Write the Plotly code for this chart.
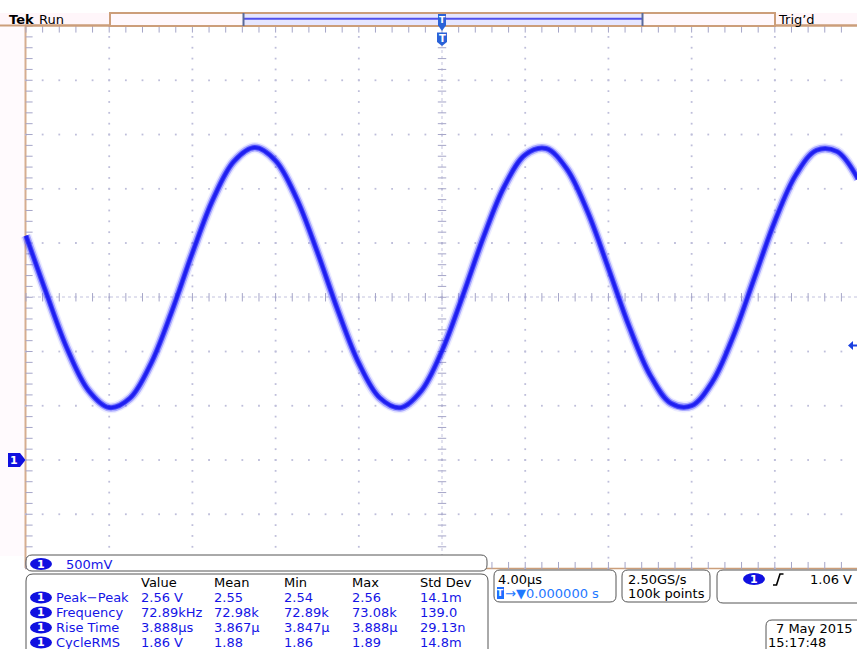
import plotly.graph_objects as go
import numpy as np

time_us = list(range(-20, 21))  # µs, 4 µs/div, trigger at 0
volts = [2.068, 1.526, 1.016, 0.642, 0.483, 0.570, 0.886, 1.365, 1.910, 2.407,
         2.754, 2.880, 2.759, 2.415, 1.920, 1.375, 0.893, 0.574, 0.482, 0.637,
         1.007, 1.516, 2.058, 2.523, 2.814, 2.871, 2.683, 2.288, 1.767, 1.229,
         0.784, 0.523, 0.501, 0.722, 1.140, 1.669, 2.201, 2.625, 2.855, 2.842,
         2.590]

meas_headers = ["Value", "Mean", "Min", "Max", "Std Dev"]
meas_names = ["Peak\u2212Peak", "Frequency", "Rise Time", "CycleRMS"]
meas_value = ["2.56 V", "72.89kHz", "3.888\u00b5s", "1.86 V"]
meas_mean = ["2.55", "72.98k", "3.867\u00b5", "1.88"]
meas_min = ["2.54", "72.89k", "3.847\u00b5", "1.86"]
meas_max = ["2.56", "73.08k", "3.888\u00b5", "1.89"]
meas_std = ["14.1m", "139.0", "29.13n", "14.8m"]

scale_text = "500mV"
timebase_text = "4.00\u00b5s"
position_text = "\u2192\u25bc0.000000 s"
sample_rate_text = "2.50GS/s"
record_text = "100k points"
trigger_level_text = "1.06 V"
date_text = "7 May 2015"
time_text = "15:17:48"

# ---------------- geometry helpers ----------------
W, H = 857, 649
def X(px):
    return px / W
def Y(py):
    return 1 - py / H

BLUE = "#1414e6"
TAN = "#cc9e7a"
FONT = "DejaVu Sans"
GRID = "rgb(190,190,218)"
TICK = "rgb(165,165,200)"

fig = go.Figure()

# graticule dots
gx, gy = [], []
for t in np.arange(-16, 20.1, 4):
    if abs(t) < 1e-6:
        continue
    for v in np.arange(-1.0, 4.001, 0.1):
        gx.append(t); gy.append(v)
for v in np.arange(-0.5, 3.6, 0.5):
    if abs(v - 1.5) < 1e-6:
        continue
    for t in np.arange(-20, 20.01, 0.8):
        gx.append(t); gy.append(v)
fig.add_trace(go.Scatter(x=gx, y=gy, mode="markers", hoverinfo="skip",
                         marker=dict(symbol="square", size=1.8, color=GRID, line_width=0)))

# center crosshair ticks
tx = list(np.arange(-20, 20.01, 0.8))
fig.add_trace(go.Scatter(x=tx, y=[1.5] * len(tx), mode="markers", hoverinfo="skip",
                         marker=dict(symbol="line-ns", size=6, line=dict(width=1, color=TICK))))
vy = list(np.arange(-1.0, 4.001, 0.1))
fig.add_trace(go.Scatter(x=[0] * len(vy), y=vy, mode="markers", hoverinfo="skip",
                         marker=dict(symbol="line-ew", size=6, line=dict(width=1, color=TICK))))
# border ticks
fig.add_trace(go.Scatter(x=tx, y=[4.0 - 0.028] * len(tx), mode="markers", hoverinfo="skip",
                         marker=dict(symbol="line-ns", size=5, line=dict(width=1, color=TICK))))
fig.add_trace(go.Scatter(x=tx, y=[-1.0 + 0.028] * len(tx), mode="markers", hoverinfo="skip",
                         marker=dict(symbol="line-ns", size=5, line=dict(width=1, color=TICK))))
fig.add_trace(go.Scatter(x=[-20 + 0.15] * len(vy), y=vy, mode="markers", hoverinfo="skip",
                         marker=dict(symbol="line-ew", size=5, line=dict(width=1, color=TICK))))

# waveform (glow + core)
fig.add_trace(go.Scatter(x=time_us, y=volts, mode="lines", hoverinfo="skip",
                         line=dict(shape="spline", width=11, color="rgba(90,90,255,0.12)")))
fig.add_trace(go.Scatter(x=time_us, y=volts, mode="lines", hoverinfo="skip",
                         line=dict(shape="spline", width=8, color="rgba(50,50,255,0.35)")))
fig.add_trace(go.Scatter(x=time_us, y=volts, mode="lines", hoverinfo="skip",
                         line=dict(shape="spline", width=5, color="rgba(35,35,250,0.75)")))
fig.add_trace(go.Scatter(x=time_us, y=volts, mode="lines", hoverinfo="skip",
                         line=dict(shape="spline", width=3, color="rgb(30,30,240)")))

shapes = []
def rect(x0, y0, x1, y1, fill=None, line=None, lw=1, layer="above"):
    shapes.append(dict(type="rect", xref="paper", yref="paper", x0=X(x0), x1=X(x1), y0=Y(y1), y1=Y(y0),
                       fillcolor=fill or "rgba(0,0,0,0)", line=dict(color=line or "rgba(0,0,0,0)", width=lw if line else 0),
                       layer=layer))
def pline(x0, y0, x1, y1, color, w=1, dash="solid", layer="above"):
    shapes.append(dict(type="line", xref="paper", yref="paper", x0=X(x0), x1=X(x1), y0=Y(y0), y1=Y(y1),
                       line=dict(color=color, width=w, dash=dash), layer=layer))
def path(pts, fill, color=None, w=0, closed=True, layer="above"):
    s = "M " + " L ".join(f"{X(a):.5f},{Y(b):.5f}" for a, b in pts)
    if closed:
        s += " Z"
    shapes.append(dict(type="path", xref="paper", yref="paper", path=s, fillcolor=fill,
                       line=dict(color=color or "rgba(0,0,0,0)", width=w), layer=layer))
def rrect(x0, y0, x1, y1, r=6, color="#555555", fill="white"):
    p = (f"M {X(x0+r)},{Y(y0)} L {X(x1-r)},{Y(y0)} Q {X(x1)},{Y(y0)} {X(x1)},{Y(y0+r)} "
         f"L {X(x1)},{Y(y1-r)} Q {X(x1)},{Y(y1)} {X(x1-r)},{Y(y1)} L {X(x0+r)},{Y(y1)} "
         f"Q {X(x0)},{Y(y1)} {X(x0)},{Y(y1-r)} L {X(x0)},{Y(y0+r)} Q {X(x0)},{Y(y0)} {X(x0+r)},{Y(y0)} Z")
    shapes.append(dict(type="path", xref="paper", yref="paper", path=p, fillcolor=fill,
                       line=dict(color=color, width=1), layer="above"))

# backgrounds
rect(0, 13, 25, 556, fill="#fffafd", layer="below")
rect(0, 13, 110, 26, fill="#fff6fa", layer="below")
rect(775, 13, 857, 26, fill="#fff6fa", layer="below")

# center crosshair dotted lines
pline(26, 297, 857, 297, "rgb(195,195,222)", 1, "dot", layer="below")
pline(442, 26, 442, 568, "rgb(195,195,222)", 1, "dot", layer="below")

# graticule borders
pline(25.5, 26, 25.5, 568, "#d6ad90", 2, layer="below")
pline(25, 25.5, 857, 25.5, TAN, 2, layer="above")
pline(25, 568.5, 857, 568.5, TAN, 1.5, layer="below")

# record bar
rect(110, 13, 775, 26, fill="#fff8fc", line=TAN, lw=2)
rect(243, 14, 643, 25, fill="#e6e6ff")
pline(244, 18.8, 642, 18.8, "rgb(80,80,235)", 2)
pline(243.5, 13, 243.5, 26, "#5a6a9a", 2)
pline(642.5, 13, 642.5, 26, "#5a6a9a", 2)
pline(0, 25.5, 110, 25.5, TAN, 2)
pline(775, 25.5, 857, 25.5, TAN, 2)

# trigger position markers
rect(438, 14, 446, 26, fill="#2a62d8")
path([(438.5, 26), (445.5, 26), (442, 31)], "#2a62d8")
path([(437, 32.5), (447, 32.5), (447, 42), (442, 46), (437, 42)], "#2a62d8")

# channel 1 ground marker
path([(8, 453), (20, 453), (25.5, 460), (20, 467), (8, 467)], "#1010e0")
# trigger level arrow
path([(848, 345.5), (853, 341), (853, 350)], "#1a40e0")
rect(852, 344.5, 857, 346.5, fill="#1a40e0")

# readout boxes
rrect(26, 555, 487, 571, r=6)
rrect(26, 574, 488, 660, r=7)
rrect(494, 570, 616, 602, r=6)
rrect(622, 570, 710, 602, r=6)
rrect(717, 570, 870, 603, r=6)
rrect(766, 620, 870, 660, r=6)

annotations = []
def txt(x, y, s, color="black", size=13, anchor="left", bold=False, family=FONT):
    annotations.append(dict(xref="paper", yref="paper", x=X(x), y=Y(y), text=(f"<b>{s}</b>" if bold else s),
                            showarrow=False, xanchor=anchor, yanchor="middle",
                            font=dict(family=family, size=size, color=color), borderpad=0))

def badge(xc, yc, w=22, h=12):
    shapes.append(dict(type="circle", xref="paper", yref="paper", x0=X(xc - w / 2), x1=X(xc + w / 2),
                       y0=Y(yc + h / 2), y1=Y(yc - h / 2), fillcolor="#1010e0", line=dict(width=0), layer="above"))
    txt(xc, yc, "1", color="white", size=11, anchor="center", bold=True)

# top bar text
txt(8, 19.5, "Tek", size=13, bold=True)
txt(38, 19.5, "Run", size=13)
txt(777, 19.5, "Trig\u2019d", size=13)
txt(442, 20, "T", color="white", size=9, anchor="center", bold=True)
txt(442, 38.5, "T", color="white", size=10, anchor="center", bold=True)
txt(13.5, 460, "1", color="white", size=11, anchor="center", bold=True)

# scale box
badge(41, 564)
txt(65, 564, scale_text, color=BLUE)

# measurement table
col_x = [140, 213, 283, 351, 419]
for cx, h in zip(col_x, meas_headers):
    txt(cx, 582, h)
row_y = [597.5, 612.5, 627.5, 642.5]
cols = [meas_value, meas_mean, meas_min, meas_max, meas_std]
for i, ry in enumerate(row_y):
    badge(41, ry)
    txt(55, ry, meas_names[i], color=BLUE)
    for cx, col in zip(col_x, cols):
        txt(cx, ry, col[i], color=BLUE)

# timebase box
txt(497, 579.5, timebase_text)
rect(497, 587, 504, 599, fill="#1e6eff")
txt(500.5, 593, "T", color="white", size=9, anchor="center", bold=True)
txt(504, 593, position_text, color="#1e78ff")
# acquisition box
txt(627, 579.5, sample_rate_text)
txt(627, 593, record_text)
# trigger box
badge(754, 579)
path([(773, 585), (776.5, 585), (780, 574), (783.5, 574)], "rgba(0,0,0,0)", color="black", w=1.6, closed=False)
txt(853, 579.5, trigger_level_text, anchor="right")
# date box
txt(854, 628.5, date_text, anchor="right")
txt(767, 642.5, time_text)

fig.update_layout(
    width=W, height=H, margin=dict(l=0, r=0, t=0, b=0),
    paper_bgcolor="white", plot_bgcolor="white", showlegend=False,
    xaxis=dict(range=[-21.25, 19.95], visible=False, fixedrange=True, domain=[0, 1]),
    yaxis=dict(range=[-1.742, 4.240], visible=False, fixedrange=True, domain=[0, 1]),
    shapes=shapes, annotations=annotations,
)
fig.write_html("out.html")
